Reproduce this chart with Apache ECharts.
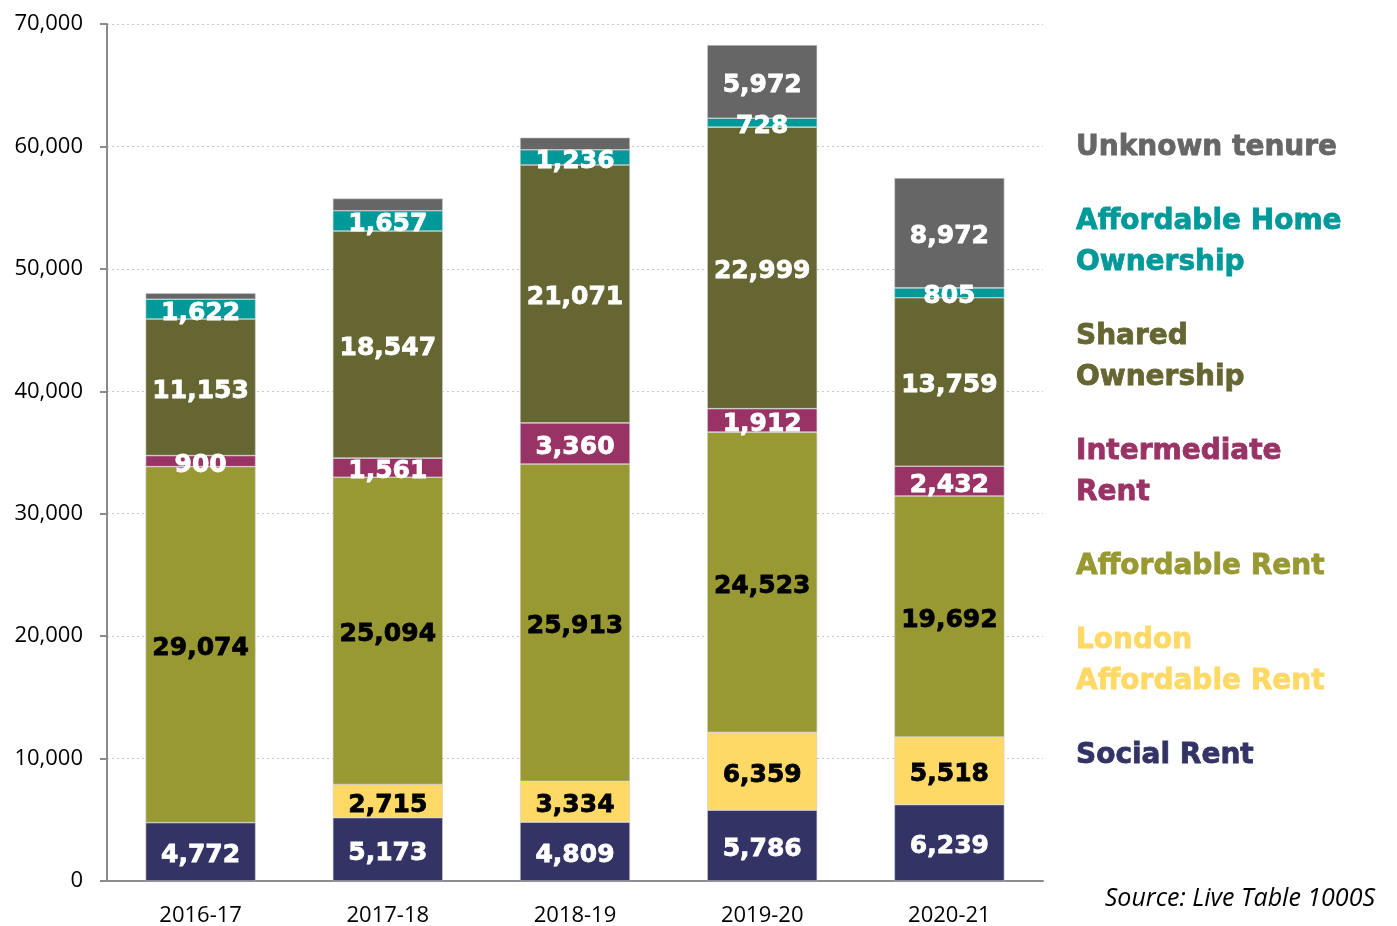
<html lang="en">
  <head>
    <meta charset="UTF-8" />
    <title>Affordable housing completions by tenure</title>
  </head>
  <body style="margin: 0">
    <div id="main" style="width: 1397px; height: 926px"></div>

    <script src="https://cdnjs.cloudflare.com/ajax/libs/echarts/6.0.0/echarts.min.js"></script>
    <script>
      // categories on the x axis
      const years = ['2016-17', '2017-18', '2018-19', '2019-20', '2020-21']

      // series values, bottom of the stack first
      const socialRent = [4772, 5173, 4809, 5786, 6239]
      const londonAffordableRent = [0, 2715, 3334, 6359, 5518]
      const affordableRent = [29074, 25094, 25913, 24523, 19692]
      const intermediateRent = [900, 1561, 3360, 1912, 2432]
      const sharedOwnership = [11153, 18547, 21071, 22999, 13759]
      const affordableHomeOwnership = [1622, 1657, 1236, 728, 805]
      // the first three are not labelled in the picture
      const unknownTenure = [500, 1000, 1000, 5972, 8972]

      // y axis ticks
      const yTicks = [0, 10000, 20000, 30000, 40000, 50000, 60000, 70000]

      const labelFont = 'DejaVu Sans'

      function stack(name, values, color, textColor, hideBelow) {
        return {
          name: name,
          type: 'bar',
          stack: 'total',
          barWidth: 110,
          itemStyle: { color: color, borderColor: '#cfcfcf', borderWidth: 0.6 },
          label: {
            show: true,
            position: 'inside',
            offset: [0, 4],
            color: textColor,
            fontFamily: labelFont,
            fontWeight: 'bold',
            fontSize: 25,
            textBorderColor: textColor,
            textBorderWidth: 0.8,
            formatter: (p) => (p.value < hideBelow ? '' : p.value.toLocaleString('en-GB'))
          },
          data: values
        }
      }

      const series = [
        stack('Social Rent', socialRent, '#333366', '#ffffff', 1),
        stack('London Affordable Rent', londonAffordableRent, '#ffd966', '#000000', 1),
        stack('Affordable Rent', affordableRent, '#999933', '#000000', 1),
        stack('Intermediate Rent', intermediateRent, '#993366', '#ffffff', 1),
        stack('Shared Ownership', sharedOwnership, '#666633', '#ffffff', 1),
        stack('Affordable Home Ownership', affordableHomeOwnership, '#009999', '#ffffff', 1),
        stack('Unknown tenure', unknownTenure, '#666666', '#ffffff', 2000)
      ]

      // legend names wrap like the original
      const legendText = {
        'Unknown tenure': 'Unknown tenure',
        'Affordable Home Ownership': 'Affordable Home\nOwnership',
        'Shared Ownership': 'Shared\nOwnership',
        'Intermediate Rent': 'Intermediate\nRent',
        'Affordable Rent': 'Affordable Rent',
        'London Affordable Rent': 'London\nAffordable Rent',
        'Social Rent': 'Social Rent'
      }

      const legendData = series
        .slice()
        .reverse()
        .map((s) => ({
          name: s.name,
          textStyle: { color: s.itemStyle.color, textBorderColor: s.itemStyle.color }
        }))

      let option = {
        animation: false,
        grid: { left: 107, right: 354, top: 24, bottom: 45, outerBoundsMode: 'none' },
        legend: {
          orient: 'vertical',
          left: 1066,
          top: 122,
          icon: 'none',
          itemWidth: 0,
          itemHeight: 0,
          itemGap: 33,
          selectedMode: false,
          data: legendData,
          formatter: (name) => legendText[name],
          textStyle: {
            fontFamily: labelFont,
            fontWeight: 'bold',
            fontSize: 28,
            lineHeight: 41,
            textBorderWidth: 0.8
          }
        },
        xAxis: {
          type: 'category',
          data: years,
          axisLine: { lineStyle: { color: '#8c8c8c', width: 2 } },
          axisTick: { show: false },
          axisLabel: { color: '#000', fontFamily: 'Open Sans', fontSize: 22, margin: 24 }
        },
        yAxis: {
          type: 'value',
          min: yTicks[0],
          max: yTicks[yTicks.length - 1],
          interval: 10000,
          axisLine: { show: true, lineStyle: { color: '#8c8c8c', width: 2 } },
          axisTick: { show: true, length: 7, lineStyle: { color: '#8c8c8c', width: 2 } },
          axisLabel: {
            color: '#000',
            fontFamily: 'Open Sans',
            fontSize: 22,
            margin: 24,
            formatter: (v) => v.toLocaleString('en-GB')
          },
          splitLine: { lineStyle: { color: '#c8c8c8', type: [2, 3], width: 1.2 } }
        },
        graphic: [
          {
            type: 'text',
            right: 22,
            top: 886,
            style: {
              text: 'Source: Live Table 1000S',
              fontFamily: 'Open Sans',
              fontStyle: 'italic',
              fontSize: 25,
              fill: '#000'
            }
          }
        ],
        series: series
      }
      echarts.init(document.querySelector('#main')).setOption(option)
    </script>
  </body>
</html>
